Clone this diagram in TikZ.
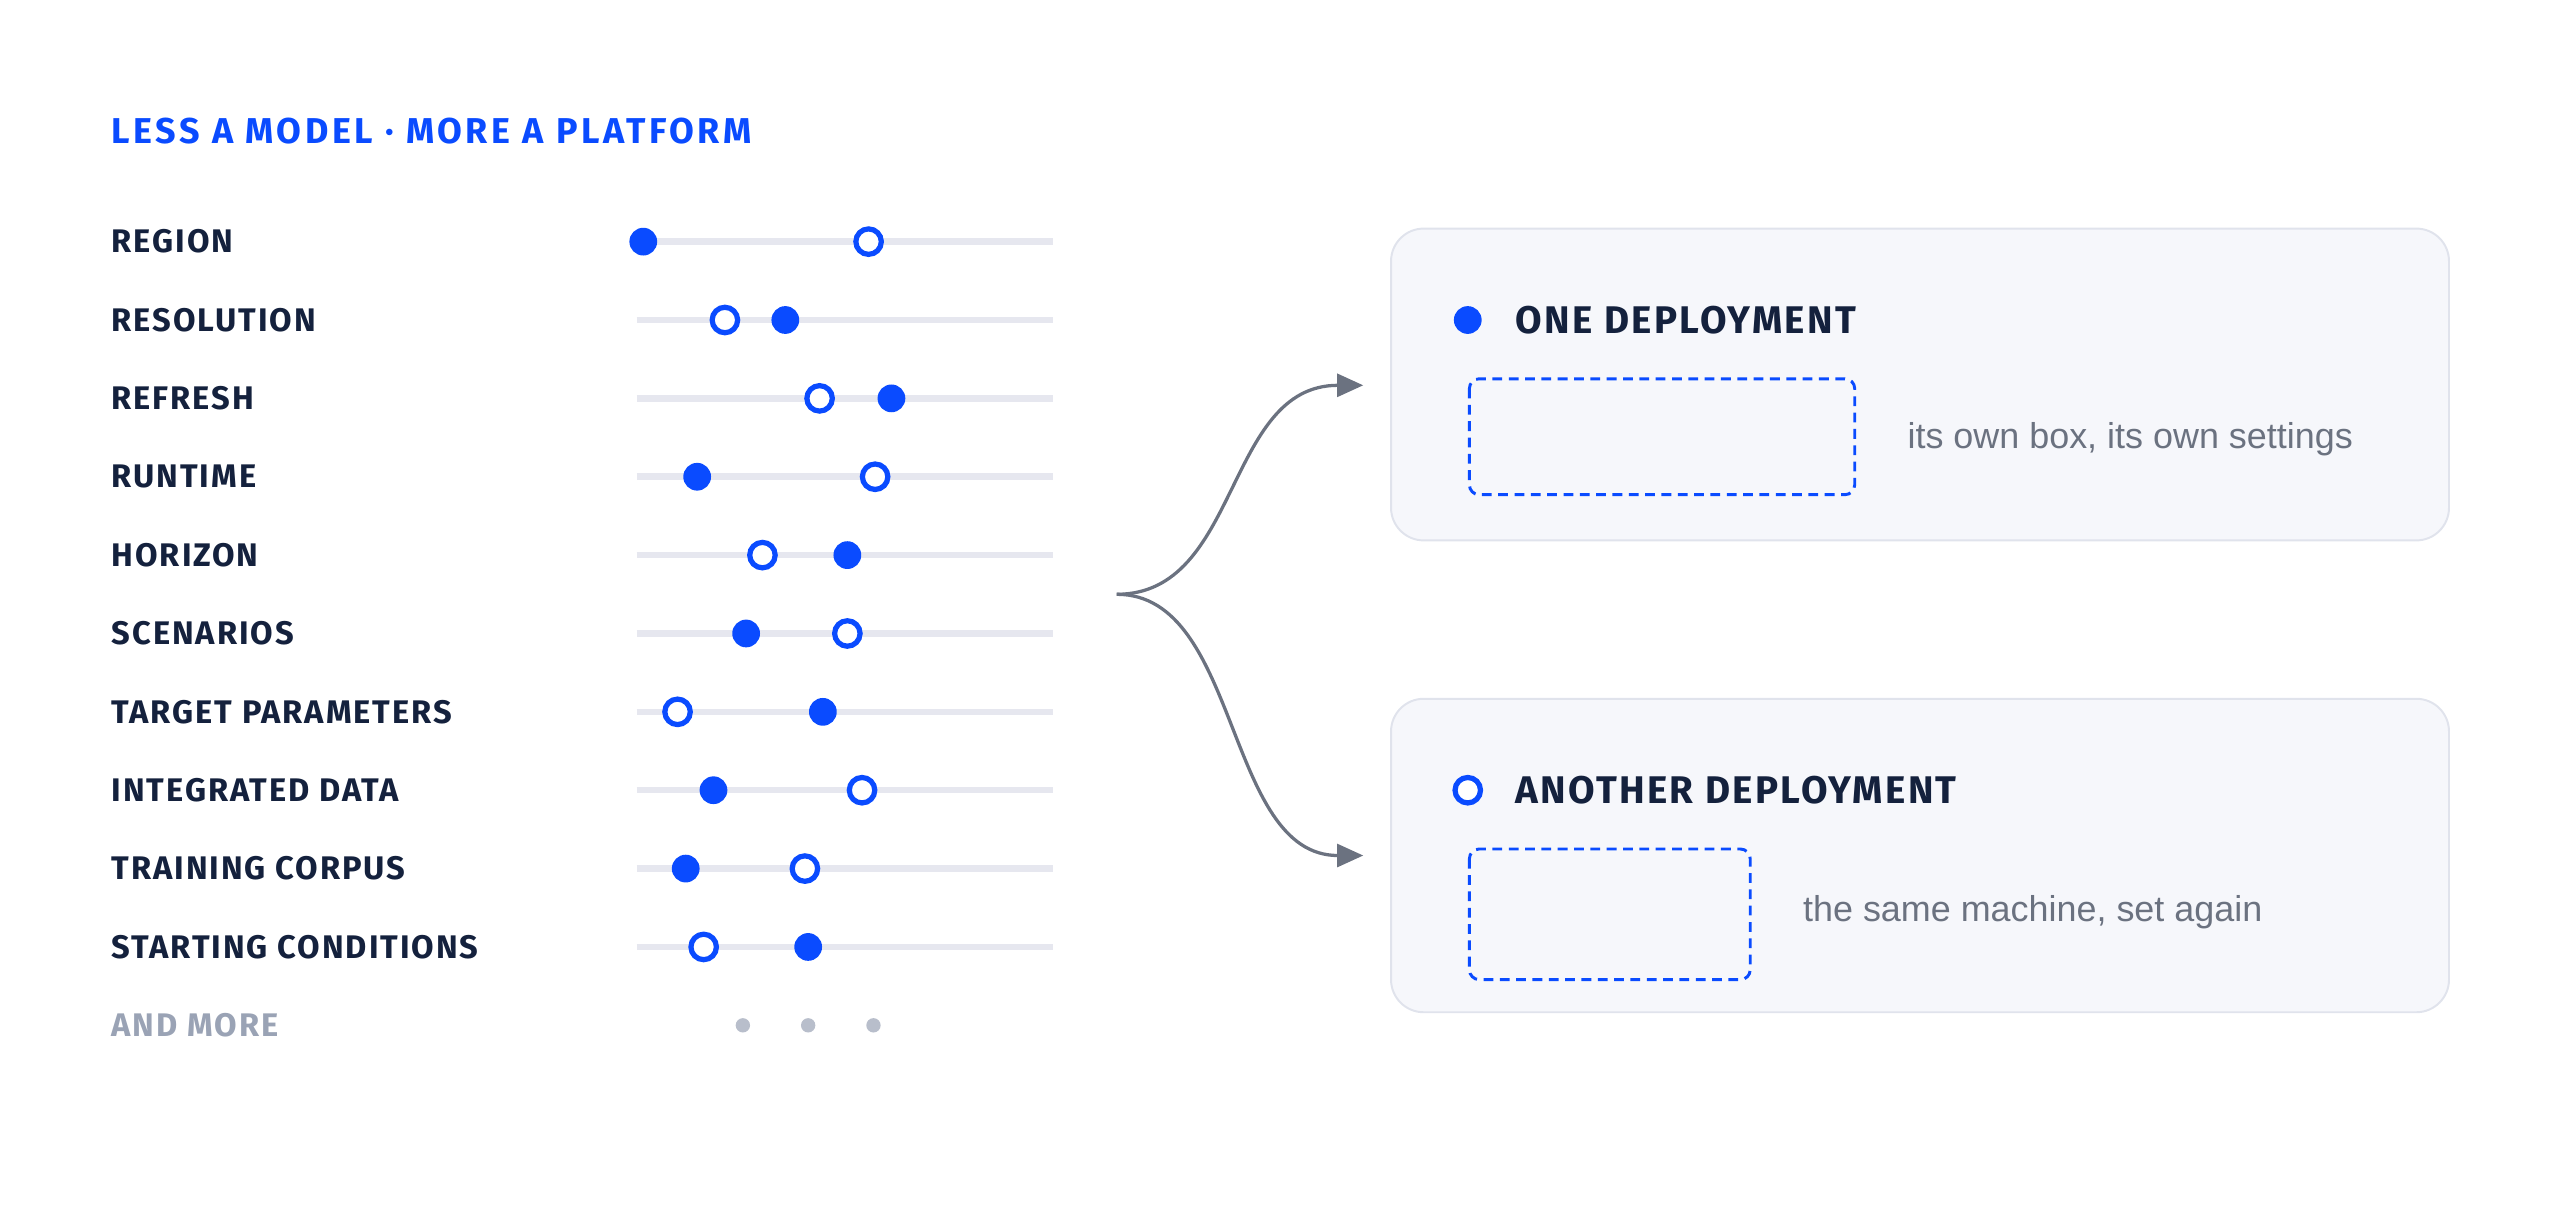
\documentclass[tikz,border=0pt]{standalone}
\usepackage{fontspec}
\setmainfont{Liberation Sans}
\newfontfamily\labelfont[LetterSpace=6]{Fira Sans}
\newfontfamily\headfont[LetterSpace=10]{Fira Sans}
\usetikzlibrary{positioning, arrows.meta}
\definecolor{brand}{HTML}{0A4BFF}
\definecolor{ink}{HTML}{14213D}
\definecolor{track}{HTML}{E6E7EF}
\definecolor{muted}{HTML}{9AA3B5}
\definecolor{panel}{HTML}{F6F7FB}
\definecolor{panelline}{HTML}{E0E3EC}
\definecolor{wire}{HTML}{6B7280}
\definecolor{note}{HTML}{6B7280}

\begin{document}
\begin{tikzpicture}[x=0.5pt, y=-0.5pt,
            rowlabel/.style={anchor=west, inner sep=0, font=\labelfont\bfseries\fontsize{10}{12}\selectfont, text=ink}, % Row captions
            onedot/.style={circle, fill=brand, inner sep=0, minimum size=8.5pt}, % Filled marker
            twodot/.style={circle, draw=brand, line width=1.6pt, fill=white, inner sep=0, minimum size=7.8pt}, % Hollow marker
            panelbox/.style={draw=panelline, fill=panel, rounded corners=10pt, line width=0.6pt},
            slot/.style={draw=brand, dashed, dash pattern=on 3pt off 2pt, line width=0.9pt, rounded corners=3pt},
            notetext/.style={anchor=west, inner sep=0, font=\fontsize{11}{13}\selectfont, text=note}
            ]
        \useasboundingbox (0,0) rectangle (1568,744);

            % Heading
            \node[rowlabel, text=brand, font=\headfont\bfseries\fontsize{11}{13}\selectfont] (heading) at (68,80) {LESS A MODEL · MORE A PLATFORM};

            % Rows: y / label / filled x / hollow x
            \foreach \y/\name/\a/\b in {148/REGION/394/532, 196/RESOLUTION/481/444, 244/REFRESH/546/502,
                292/RUNTIME/427/536, 340/HORIZON/519/467, 388/SCENARIOS/457/519,
                436/TARGET PARAMETERS/504/415, 484/INTEGRATED DATA/437/528,
                532/TRAINING CORPUS/420/493, 580/STARTING CONDITIONS/495/431} {
                \node[rowlabel] (lab\y) at (68,\y) {\name};
                \draw[track, line width=2pt] (390,\y) -- (645,\y);
                \node[onedot] (one\y) at (\a,\y) {};
                \node[twodot] (two\y) at (\b,\y) {};
            }
            \node[rowlabel, text=muted] (more) at (68,628) {AND MORE};
            \foreach \x in {455,495,535}
                \fill[muted!70] (\x,628) circle (2.2pt);

            % Panels
            \draw[panelbox] (852,140) rectangle (1500,331);
            \draw[panelbox] (852,428) rectangle (1500,620);
            \node[onedot] (keyone) at (899,196) {};
            \node[rowlabel, font=\labelfont\bfseries\fontsize{11.8}{13}\selectfont] (titleone) at (928,196) {ONE DEPLOYMENT};
            \draw[slot] (900,232) rectangle (1136,303);
            \node[notetext] (noteone) at (1168,269) {its own box, its own settings};
            \node[twodot] (keytwo) at (899,484) {};
            \node[rowlabel, font=\labelfont\bfseries\fontsize{11.8}{13}\selectfont] (titletwo) at (928,484) {ANOTHER DEPLOYMENT};
            \draw[slot] (900,520) rectangle (1072,600);
            \node[notetext] (notetwo) at (1104,559) {the same machine, set again};

            % Fork
            \coordinate (fork) at (684,364);
            \coordinate (upper) at (835,236);
            \coordinate (lower) at (835,524);
            \draw[wire, line width=1pt, -{Triangle[length=8pt, width=7pt]}] (fork) .. controls (760,364) and (750,236) .. (upper);
            \draw[wire, line width=1pt, -{Triangle[length=8pt, width=7pt]}] (fork) .. controls (760,364) and (750,524) .. (lower);

\end{tikzpicture}
\end{document}
